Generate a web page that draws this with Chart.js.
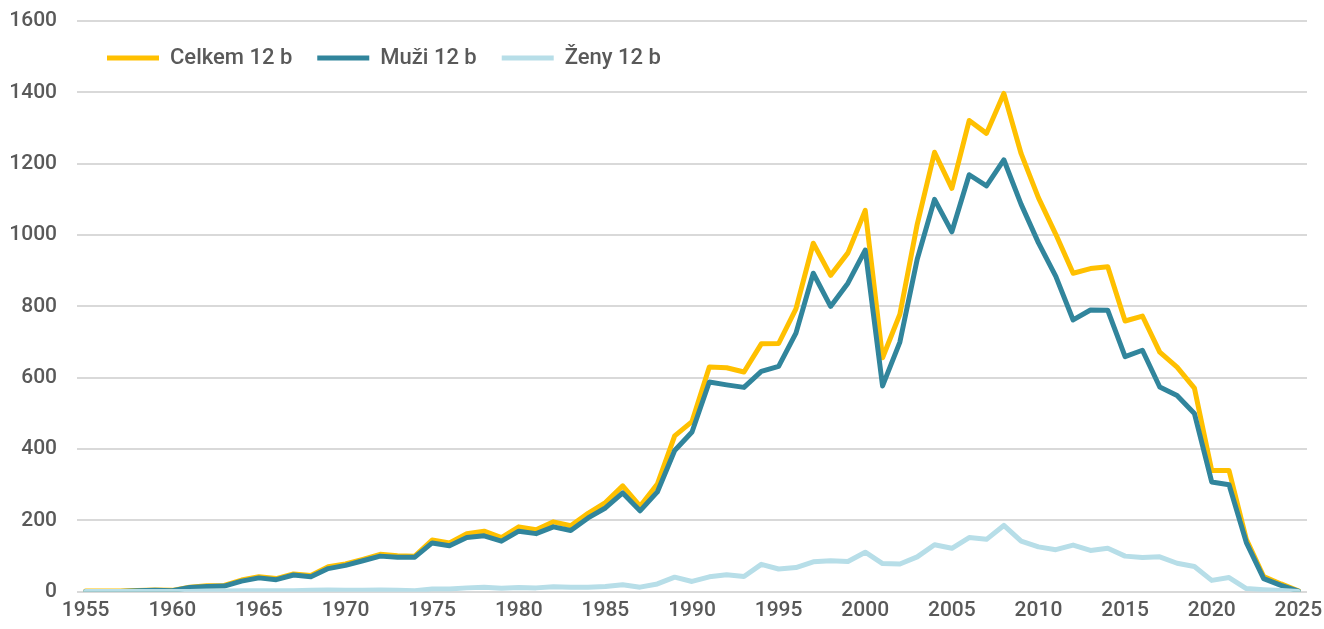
<!DOCTYPE html>
<html>
<head>
<meta charset="utf-8">
<script src="https://cdn.jsdelivr.net/npm/chart.js@4"></script>
<style>
  html, body { margin: 0; padding: 0; background: #fff; }
  #wrap { width: 1324px; height: 629px; position: relative; }
</style>
</head>
<body>
<div id="wrap"><canvas id="chart"></canvas></div>
<script>
// roky 1955–2025
const years = [];
for (let y = 1955; y <= 2025; y++) years.push(String(y));

const celkem = [2, 2, 2, 4, 5, 4, 13, 17, 18, 33, 42, 37, 50, 46, 70, 78, 91, 105, 101, 100,
  145, 137, 163, 170, 152, 182, 174, 196, 185, 220, 250, 297, 240, 302, 437, 477,
  630, 628, 616, 695, 696, 793, 977, 887, 950, 1069, 656, 778, 1030, 1232, 1131,
  1321, 1285, 1397, 1228, 1104, 1002, 893, 906, 911, 759, 773, 672, 630, 571,
  340, 340, 147, 43, 22, 3];

const muzi = [1, 1, 1, 3, 4, 3, 12, 15, 16, 30, 39, 34, 47, 42, 65, 74, 87, 100, 97, 97,
  137, 129, 152, 157, 142, 170, 163, 182, 172, 207, 235, 277, 227, 280, 396, 448,
  588, 580, 573, 618, 632, 725, 893, 800, 865, 958, 577, 700, 932, 1100, 1009,
  1169, 1138, 1211, 1086, 978, 884, 762, 790, 789, 659, 677, 574, 550, 500,
  308, 300, 138, 37, 18, 2];

const zeny = [1, 1, 1, 1, 1, 1, 1, 2, 2, 3, 3, 3, 3, 4, 5, 4, 4, 5, 4, 3,
  8, 8, 11, 13, 10, 12, 11, 14, 13, 13, 15, 20, 13, 22, 41, 29,
  42, 48, 43, 77, 64, 68, 84, 87, 85, 111, 79, 78, 98, 132, 122,
  152, 147, 186, 142, 126, 118, 131, 116, 122, 100, 96, 98, 80, 71,
  32, 40, 9, 6, 4, 1];

const textColor = '#595959';
const fontFamily = 'Roboto, "Liberation Sans", sans-serif';
const font = { family: fontFamily, size: 21, weight: '500' };

function line(label, data, color, order) {
  return {
    label: label,
    data: data,
    borderColor: color,
    backgroundColor: color,
    borderWidth: 5,
    pointRadius: 0,
    tension: 0,
    borderJoinStyle: 'round',
    borderCapStyle: 'round',
    order: order
  };
}

// legenda vodorovně uvnitř grafu, vlevo nahoře
const legendInside = {
  id: 'legendInside',
  afterLayout(chart) {
    const lg = chart.legend;
    const area = chart.chartArea;
    lg.isHorizontal = () => true;
    lg.maxWidth = area.width;
    lg.maxHeight = 200;
    lg.buildLabels();
    lg.fit();
    lg.left = area.left + 5;
    lg.top = area.top + 1;
    lg.right = lg.left + lg.width;
    lg.bottom = lg.top + lg.height;
  }
};

const ctx = document.getElementById('chart').getContext('2d');
new Chart(ctx, {
  type: 'line',
  data: {
    labels: years,
    datasets: [
      line('Celkem 12 b', celkem, '#FFC000', 3),
      line('Muži 12 b', muzi, '#31859C', 2),
      line('Ženy 12 b', zeny, '#B7DEE8', 1)
    ]
  },
  plugins: [legendInside],
  options: {
    responsive: true,
    maintainAspectRatio: false,
    animation: false,
    layout: { padding: { top: 21, right: 17, bottom: 0, left: 0 } },
    plugins: {
      tooltip: { enabled: false },
      legend: {
        position: 'chartArea',
        align: 'start',
        labels: {
          usePointStyle: true,
          pointStyle: 'line',
          pointStyleWidth: 52,
          padding: 25,
          color: textColor,
          font: { family: fontFamily, size: 22, weight: '500' },
          sort: (a, b) => a.datasetIndex - b.datasetIndex
        }
      }
    },
    scales: {
      x: {
        offset: true,
        grid: { display: false, drawTicks: false },
        border: { display: false },
        afterFit: function (scale) {
          scale.paddingLeft = 0;
          scale.paddingRight = 0;
        },
        ticks: {
          autoSkip: false,
          maxRotation: 0,
          padding: 6,
          color: textColor,
          font: font,
          callback: function (v, i) {
            const y = Number(years[i]);
            return y % 5 === 0 ? years[i] : '';
          }
        }
      },
      y: {
        min: 0,
        max: 1600,
        grid: { color: '#D9D9D9', lineWidth: 2, drawTicks: false },
        border: { display: false },
        afterFit: function (scale) {
          scale.width = 77;
          scale.paddingTop = 0;
          scale.paddingBottom = 0;
        },
        ticks: {
          stepSize: 200,
          padding: 20,
          color: textColor,
          font: font,
          callback: v => String(v)
        }
      }
    }
  }
});
</script>
</body>
</html>
